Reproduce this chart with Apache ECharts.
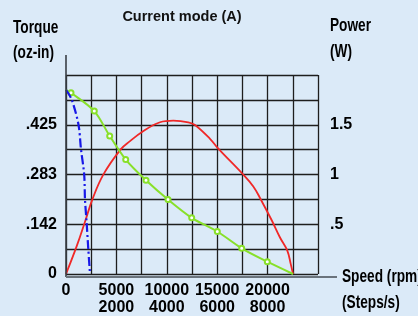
<!DOCTYPE html>
<html>
<head>
<meta charset="utf-8">
<script src="https://cdn.jsdelivr.net/npm/echarts@6/dist/echarts.min.js"></script>
<style>
  html, body { margin: 0; padding: 0; background: #dbeaf8; }
  #chart { width: 418px; height: 316px; }
</style>
</head>
<body>
<div id="chart"></div>
<script>
    // blue dash-dot torque curve (rpm, oz-in)
    var blueSpeed = [0, 565, 1240, 1488, 1805, 1885, 2054, 2212, 2381];
    var blueTorque = [0.524, 0.497, 0.425, 0.355, 0.283, 0.212, 0.143, 0.071, 0];

    // green torque curve with markers (rpm, oz-in)
    var greenSpeed = [0, 496, 2808, 4335, 5923, 7937, 10119, 12470, 15010, 17431, 19970, 22520];
    var greenTorque = [0.524, 0.516, 0.464, 0.393, 0.326, 0.267, 0.212, 0.160, 0.121, 0.073, 0.035, 0];
    var greenMarked = [false, true, true, true, true, true, true, true, true, true, true, false];

    // red power curve (rpm, W)
    var redSpeed = [0, 1062, 1885, 2609, 3700, 5427, 6349, 7510, 9325, 10645, 12133, 12798, 14286, 15109, 17530, 18581, 19246, 20407, 21230, 21954, 22292, 22520];
    var redPower = [0, 0.28, 0.525, 0.747, 0.999, 1.253, 1.335, 1.425, 1.525, 1.541, 1.525, 1.498, 1.359, 1.26, 1.005, 0.88, 0.764, 0.54, 0.367, 0.235, 0.102, 0];

    // tick labels
    var xTickRpm = [0, 5000, 10000, 15000, 20000];
    var xTickSteps = ['', '2000', '4000', '6000', '8000'];
    var torqueTickLabels = ['0', '', '.142', '', '.283', '', '.425', '', ''];
    var powerTickLabels = ['', '', '.5', '', '1', '', '1.5', '', ''];

    var sans = "'Liberation Sans', Arial, sans-serif";

    function pairs(xs, ys) {
        return xs.map(function (x, i) { return [x, ys[i]]; });
    }

    function label(text, x, y) {
        return {
            type: 'text', x: x, y: y, scaleX: 0.76, z: 10,
            style: { text: text, font: 'bold 18px ' + sans, fill: '#000', verticalAlign: 'middle' }
        };
    }

    var greenData = greenSpeed.map(function (x, i) {
        var item = { value: [x, greenTorque[i]] };
        if (!greenMarked[i]) item.symbol = 'none';
        return item;
    });

    var tickFont = { color: '#000', fontFamily: sans, fontWeight: 'bold', fontSize: 16 };

    var myChart = echarts.init(document.getElementById('chart'));
    var option = {
        backgroundColor: '#dbeaf8',
        animation: false,
        grid: { left: 66, right: 100, top: 75, bottom: 39 },
        xAxis: {
            type: 'value',
            min: 0,
            max: 25000,
            interval: 2500,
            axisLine: { show: false },
            axisTick: { show: false },
            splitLine: { lineStyle: { color: '#1e1e1e', width: 1.3 } },
            axisLabel: Object.assign({
                margin: 8,
                lineHeight: 17,
                formatter: function (v) {
                    var k = xTickRpm.indexOf(v);
                    if (k < 0) return '';
                    return xTickSteps[k] ? v + '\n' + xTickSteps[k] : String(v);
                }
            }, tickFont)
        },
        yAxis: [
            {
                type: 'value',
                min: 0,
                max: 0.56664,
                interval: 0.07083,
                axisLine: { show: false },
                axisTick: { show: false },
                splitLine: { lineStyle: { color: '#1e1e1e', width: 1.3 } },
                axisLabel: Object.assign({
                    margin: 9,
                    formatter: function (v, i) { return torqueTickLabels[i] || ''; }
                }, tickFont)
            },
            {
                type: 'value',
                min: 0,
                max: 2,
                interval: 0.25,
                position: 'right',
                axisLine: { show: false },
                axisTick: { show: false },
                splitLine: { show: false },
                axisLabel: Object.assign({
                    margin: 12,
                    formatter: function (v, i) { return powerTickLabels[i] || ''; }
                }, tickFont)
            }
        ],
        series: [
            {
                type: 'line',
                yAxisIndex: 1,
                data: pairs(redSpeed, redPower),
                smooth: 0.4,
                showSymbol: false,
                lineStyle: { color: '#f02828', width: 1.8 },
                z: 3
            },
            {
                type: 'line',
                yAxisIndex: 0,
                data: greenData,
                smooth: 0.3,
                symbol: 'emptyCircle',
                symbolSize: 5,
                itemStyle: { color: '#88e02a', borderWidth: 1.3 },
                lineStyle: { color: '#88e02a', width: 2 },
                z: 4
            },
            {
                type: 'line',
                yAxisIndex: 0,
                data: pairs(blueSpeed, blueTorque),
                smooth: 0.3,
                showSymbol: false,
                lineStyle: { color: '#1818e8', width: 2.2, type: [9, 3, 2, 3] },
                z: 5
            }
        ],
        graphic: [
            // extended axis lines
            { type: 'line', z: 10, shape: { x1: 66, y1: 55, x2: 66, y2: 277 }, style: { stroke: '#3a3f46', lineWidth: 1.6 } },
            { type: 'line', z: 10, shape: { x1: 66, y1: 277, x2: 337, y2: 277 }, style: { stroke: '#6a737c', lineWidth: 2.2 } },
            { type: 'text', x: 182, y: 17, z: 10, style: { text: 'Current mode (A)', font: 'bold 14.5px ' + sans, fill: '#111', align: 'center', verticalAlign: 'middle' } },
            label('Torque', 13, 28),
            label('(oz-in)', 13, 53),
            label('Power', 330, 26),
            label('(W)', 330, 52),
            label('Speed (rpm)', 342, 277),
            label('(Steps/s)', 342, 303)
        ]
    };

    // 绘制图表
    myChart.setOption(option);
</script>
</body>
</html>
